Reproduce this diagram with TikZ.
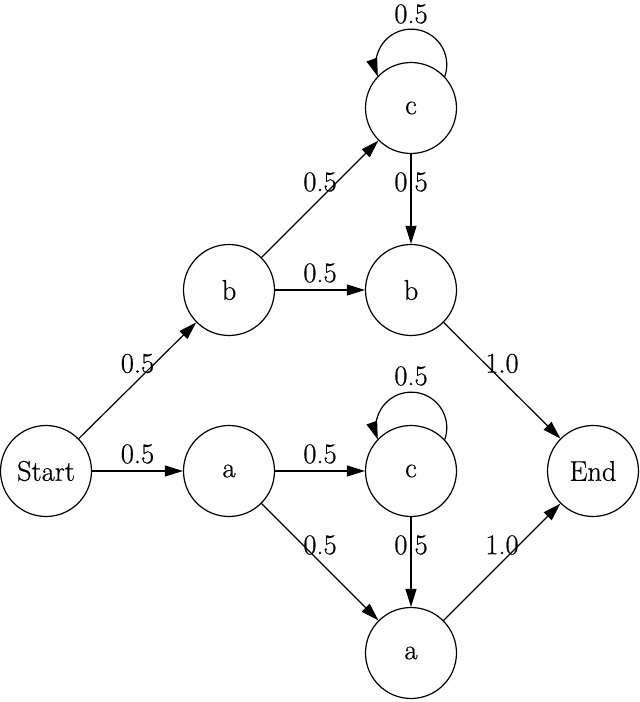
\documentclass[tikz,border=0pt]{standalone}
\usepackage{fontspec}
\newfontfamily\statefont{Latin Modern Roman}[FakeBold=0.6]
\usetikzlibrary{arrows.meta,calc}
\begin{document}
\begin{tikzpicture}[x=1pt,y=1pt,
  state/.style={circle,draw,line width=1.2pt,minimum size=91pt,inner sep=0pt,font=\statefont\fontsize{28.5}{32}\selectfont},
  edge/.style={line width=1.2pt,-{Triangle[length=18pt,width=11pt]}},
  lbl/.style={inner sep=0pt,font=\statefont\fontsize{28.5}{32}\selectfont}]
\useasboundingbox (0,0) rectangle (640,702);
\node[state] (start) at (46,231) {Start};
\node[state] (a) at (229,231) {a};
\node[state] (b) at (229,412) {b};
\node[state] (c1) at (411,594) {c};
\node[state] (b2) at (411,412) {b};
\node[state] (c2) at (411,231) {c};
\node[state] (a2) at (411,49) {a};
\node[state] (end) at (593,231) {End};

\draw[edge] (start) -- node[lbl,midway,yshift=17pt]{0.5} (b);
\draw[edge] (start) -- node[lbl,midway,yshift=17pt]{0.5} (a);
\draw[edge] (b) -- node[lbl,midway,yshift=17pt]{0.5} (c1);
\draw[edge] (b) -- node[lbl,midway,yshift=17pt]{0.5} (b2);
\draw[edge] (c1) -- node[lbl,midway,yshift=17pt]{0.5} (b2);
\draw[edge] (b2) -- node[lbl,midway,yshift=17pt]{1.0} (end);
\draw[edge] (a) -- node[lbl,midway,yshift=17pt]{0.5} (c2);
\draw[edge] (a) -- node[lbl,midway,yshift=17pt]{0.5} (a2);
\draw[edge] (c2) -- node[lbl,midway,yshift=17pt]{0.5} (a2);
\draw[edge] (a2) -- node[lbl,midway,yshift=17pt]{1.0} (end);

\draw[edge] (c1.43.4) arc[start angle=-19.6,end angle=199.6,radius=35.5];
\draw[edge] (c2.43.4) arc[start angle=-19.6,end angle=199.6,radius=35.5];
\node[lbl] (l1) at ($(c1)+(0,94)$) {0.5};
\node[lbl] (l2) at ($(c2)+(0,95)$) {0.5};
\end{tikzpicture}
\end{document}
